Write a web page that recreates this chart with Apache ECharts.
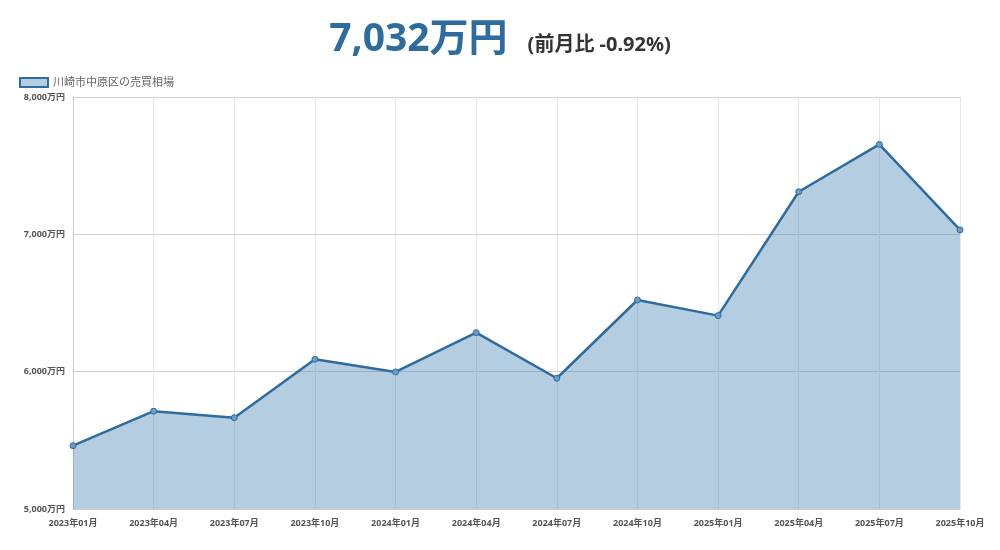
<!DOCTYPE html>
<html><head><meta charset="utf-8">
<script src="https://cdn.jsdelivr.net/npm/echarts@6/dist/echarts.min.js"></script>
<style>html,body{margin:0;padding:0;background:#fff}#c{width:1000px;height:550px}</style>
</head><body><div id="c"></div>
<script>
const categories = ['2023年01月','2023年04月','2023年07月','2023年10月','2024年01月','2024年04月','2024年07月','2024年10月','2025年01月','2025年04月','2025年07月','2025年10月'];
const prices = [5461, 5712, 5665, 6090, 5998, 6284, 5952, 6522, 6408, 7310, 7655, 7032];
const seriesName = '川崎市中原区の売買相場';
const headline = '7,032万円';
const changeText = '(前月比 -0.92%)';

const chart = echarts.init(document.getElementById('c'));
const font = "'Noto Sans', 'Noto Sans CJK JP', sans-serif";
chart.setOption({
  animation: false,
  title: {
    left: 'center', top: 8,
    text: '{a|' + headline + '}{s| }{b|' + changeText + '}',
    textStyle: {
      rich: {
        a: {fontSize: 39, fontWeight: 'bold', color: '#2e6b9e', fontFamily: font, verticalAlign: 'bottom', lineHeight: 46},
        s: {fontSize: 20, width: 20},
        b: {fontSize: 20, fontWeight: 'bold', color: '#333', fontFamily: font, verticalAlign: 'bottom', padding: [0,0,4,0]}
      }
    }
  },
  legend: {
    left: 14, top: 72,
    itemWidth: 28, itemHeight: 9, itemGap: 6,
    textStyle: {fontSize: 11, color: '#666', fontFamily: font},
    data: [{name: seriesName, icon: 'rect', itemStyle: {color: 'rgba(70,130,180,0.4)', borderColor: '#2e6b9e', borderWidth: 2}}]
  },
  grid: {left: 73, right: 40, top: 97, bottom: 41},
  xAxis: {
    type: 'category', data: categories, boundaryGap: false,
    axisLine: {show: true, lineStyle: {color: '#ccc'}},
    axisTick: {show: false},
    axisLabel: {fontSize: 9, color: '#555', fontWeight: 'bold', margin: 10, fontFamily: font, interval: 0},
    splitLine: {show: true, lineStyle: {color: '#e6e6e6', width: 1}}
  },
  yAxis: {
    type: 'value', min: 5000, max: 8000, interval: 1000,
    axisLine: {show: true, lineStyle: {color: '#ccc'}},
    axisTick: {show: false},
    axisLabel: {fontSize: 9, color: '#555', fontWeight: 'bold', margin: 8, fontFamily: font,
      formatter: v => v.toLocaleString('en-US') + '万円'},
    splitLine: {show: true, lineStyle: {color: '#cfcfcf', width: 1}}
  },
  series: [{
    name: seriesName, type: 'line', data: prices,
    symbol: 'circle', symbolSize: 6,
    lineStyle: {color: '#2e6b9e', width: 2.5},
    itemStyle: {color: '#6a9cc8', borderColor: '#2e6b9e', borderWidth: 1},
    areaStyle: {color: 'rgba(70,130,180,0.4)', opacity: 1, origin: 'start'}
  }]
});
</script>
</body></html>
